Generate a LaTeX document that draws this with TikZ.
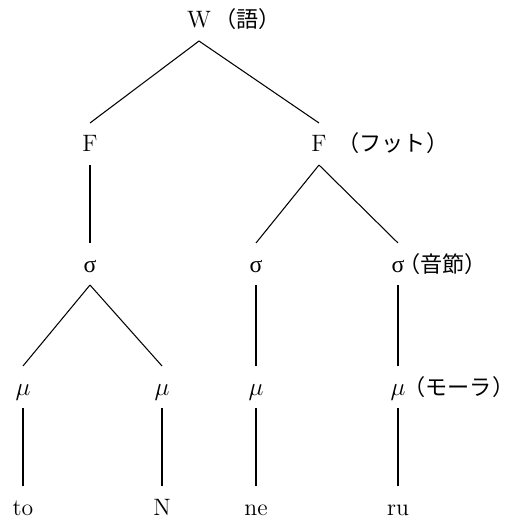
\documentclass[tikz,border=0pt]{standalone}
\usepackage{fontspec}
\newfontfamily\jpfont{Noto Sans CJK JP}
\newfontfamily\grfont{Liberation Serif}
\tikzset{
  tnode/.style={font=\fontsize{13.5}{16}\selectfont, minimum width=1cm, inner xsep=0pt, inner ysep=0.25cm, text height=0.32cm, text depth=0pt},
  gloss/.style={font=\fontsize{12.6}{15}\selectfont\jpfont, inner sep=0pt, anchor=base west},
}
\begin{document}
\begin{tikzpicture}[x=0.02cm,y=-0.02cm,line width=0.6pt]
\useasboundingbox (0,0) rectangle (512,517);

% word
\node[tnode] (w) at (199,20) {W};
\node[gloss] (w-gloss) at ([xshift=0.29cm]w.base) {（語）};

% feet
\node[tnode] (f1) at (90,144) {F};
\node[tnode] (f2) at (319,144) {F};
\node[gloss] (f2-gloss) at ([xshift=0.36cm]f2.base) {（フット）};

% syllables
\node[tnode] (s1) at (90,264) {\grfont σ};
\node[tnode] (s2) at (256,264) {\grfont σ};
\node[tnode] (s3) at (398,264) {\grfont σ};
\node[gloss] (s3-gloss) at ([xshift=0cm]s3.base) {（音節）};

% morae
\node[tnode] (m1) at (23,387) {$\mu$};
\node[tnode] (m2) at (162,387) {$\mu$};
\node[tnode] (m3) at (256,387) {$\mu$};
\node[tnode] (m4) at (398,387) {$\mu$};
\node[gloss] (m4-gloss) at ([xshift=0.1cm]m4.base) {（モーラ）};

% segments
\node[tnode] (to) at (23,507) {to};
\node[tnode] (n) at (162,507) {N};
\node[tnode] (ne) at (256,507) {ne};
\node[tnode] (ru) at (398,507) {ru};

\draw (w.south) -- (f1.north);
\draw (w.south) -- (f2.north);
\draw (f1.south) -- (s1.north);
\draw (f2.south) -- (s2.north);
\draw (f2.south) -- (s3.north);
\draw (s1.south) -- (m1.north);
\draw (s1.south) -- (m2.north);
\draw (s2.south) -- (m3.north);
\draw (s3.south) -- (m4.north);
\draw (m1.south) -- (to.north);
\draw (m2.south) -- (n.north);
\draw (m3.south) -- (ne.north);
\draw (m4.south) -- (ru.north);
\end{tikzpicture}
\end{document}
